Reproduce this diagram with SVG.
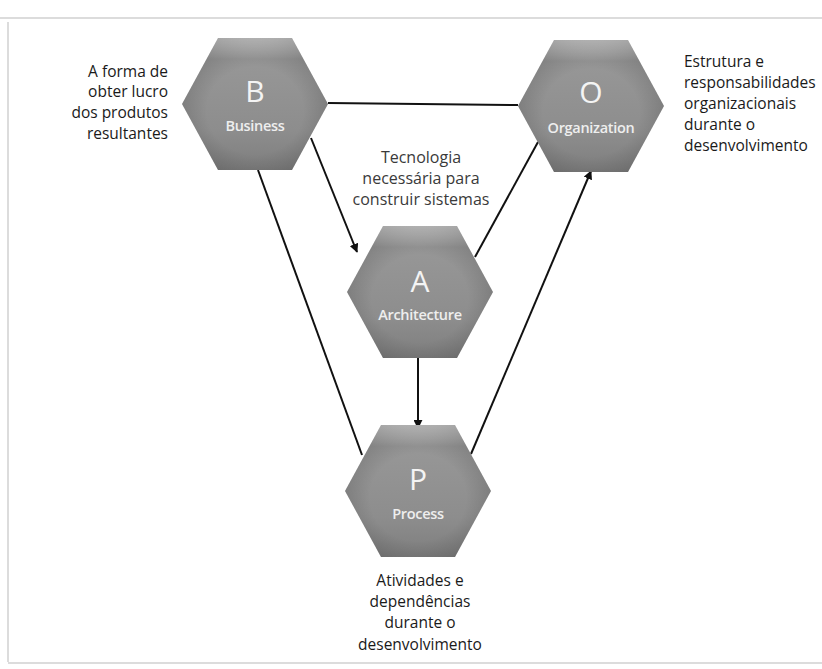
<svg xmlns="http://www.w3.org/2000/svg" width="822" height="669" viewBox="0 0 822 669">
  <style>
    .note { font-family: "Open Sans", "Liberation Sans", sans-serif; font-size: 15.5px; fill: #1a1a1a; }
    .tech { font-family: "Open Sans", "Liberation Sans", sans-serif; font-size: 16px; fill: #3a3a3a; }
    .letter { font-family: "Open Sans", "Liberation Sans", sans-serif; font-size: 30px; fill: #f4f4f4; text-anchor: middle; }
    .name { font-family: "Open Sans", "Liberation Sans", sans-serif; font-size: 14.5px; font-weight: 600; fill: #eeeeee; text-anchor: middle; letter-spacing: -0.3px; }
    .link { stroke: #111; stroke-width: 2; fill: none; }
    .frame { stroke: #dcdcdc; stroke-width: 2; fill: none; }
  </style>
  <defs>
    <linearGradient id="hexBody" x1="0" y1="0" x2="0" y2="1">
      <stop offset="0" stop-color="#d2d2d2"/>
      <stop offset="0.16" stop-color="#979797"/>
      <stop offset="0.7" stop-color="#8d8d8d"/>
      <stop offset="1" stop-color="#7e7e7e"/>
    </linearGradient>
    <radialGradient id="hexShade" cx="0.5" cy="0.55" r="0.6">
      <stop offset="0.55" stop-color="#000" stop-opacity="0"/>
      <stop offset="1" stop-color="#000" stop-opacity="0.2"/>
    </radialGradient>
    <path id="hex" d="M -37 -66 L 37 -66 L 73 0 L 37 66 L -37 66 L -73 0 Z"/>
    <marker id="arrow" viewBox="0 0 10 10" refX="9" refY="5" markerWidth="9" markerHeight="9" markerUnits="userSpaceOnUse" orient="auto">
      <path d="M 0 0 L 10 5 L 0 10 Z" fill="#111"/>
    </marker>
  </defs>

  <rect width="822" height="669" fill="#ffffff"/>
  <!-- faint page frame -->
  <line class="frame" x1="0" y1="18" x2="822" y2="18"/>
  <line class="frame" x1="8" y1="22" x2="8" y2="662"/>
  <line class="frame" x1="8" y1="663" x2="822" y2="663"/>

  <!-- connectors -->
  <g id="connectors">
    <line class="link" x1="328" y1="103" x2="518" y2="105"/>
    <line class="link" x1="311" y1="138" x2="357" y2="252" marker-end="url(#arrow)"/>
    <line class="link" x1="258" y1="170" x2="362" y2="455"/>
    <line class="link" x1="475" y1="257" x2="538" y2="142"/>
    <line class="link" x1="418" y1="356" x2="418" y2="428" marker-end="url(#arrow)"/>
    <line class="link" x1="471" y1="454" x2="591" y2="171" marker-end="url(#arrow)"/>
  </g>

  <!-- nodes -->
  <g id="node-business" transform="translate(255,104)">
    <use href="#hex" fill="url(#hexBody)"/>
    <use href="#hex" fill="url(#hexShade)"/>
    <text class="letter" x="0" y="-2">B</text>
    <text class="name" x="0" y="27">Business</text>
  </g>
  <g id="node-organization" transform="translate(591,106)">
    <use href="#hex" fill="url(#hexBody)"/>
    <use href="#hex" fill="url(#hexShade)"/>
    <text class="letter" x="0" y="-3">O</text>
    <text class="name" x="0" y="27">Organization</text>
  </g>
  <g id="node-architecture" transform="translate(420,292)">
    <use href="#hex" fill="url(#hexBody)"/>
    <use href="#hex" fill="url(#hexShade)"/>
    <text class="letter" x="0" y="0">A</text>
    <text class="name" x="0" y="28">Architecture</text>
  </g>
  <g id="node-process" transform="translate(418,491)">
    <use href="#hex" fill="url(#hexBody)"/>
    <use href="#hex" fill="url(#hexShade)"/>
    <text class="letter" x="0" y="-1">P</text>
    <text class="name" x="0" y="28">Process</text>
  </g>

  <!-- descriptions -->
  <g id="desc-business" class="note" text-anchor="end">
    <text x="168" y="77">A forma de</text>
    <text x="168" y="97">obter lucro</text>
    <text x="168" y="118">dos produtos</text>
    <text x="168" y="139">resultantes</text>
  </g>
  <g id="desc-organization" class="note">
    <text x="684" y="67">Estrutura e</text>
    <text x="684" y="88">responsabilidades</text>
    <text x="684" y="109">organizacionais</text>
    <text x="684" y="130">durante o</text>
    <text x="684" y="151">desenvolvimento</text>
  </g>
  <g id="desc-architecture" class="tech" text-anchor="middle">
    <text x="421" y="163">Tecnologia</text>
    <text x="421" y="184">necessária para</text>
    <text x="421" y="205">construir sistemas</text>
  </g>
  <g id="desc-process" class="note" text-anchor="middle">
    <text x="420" y="586">Atividades e</text>
    <text x="420" y="607">dependências</text>
    <text x="420" y="628">durante o</text>
    <text x="420" y="650">desenvolvimento</text>
  </g>
</svg>
